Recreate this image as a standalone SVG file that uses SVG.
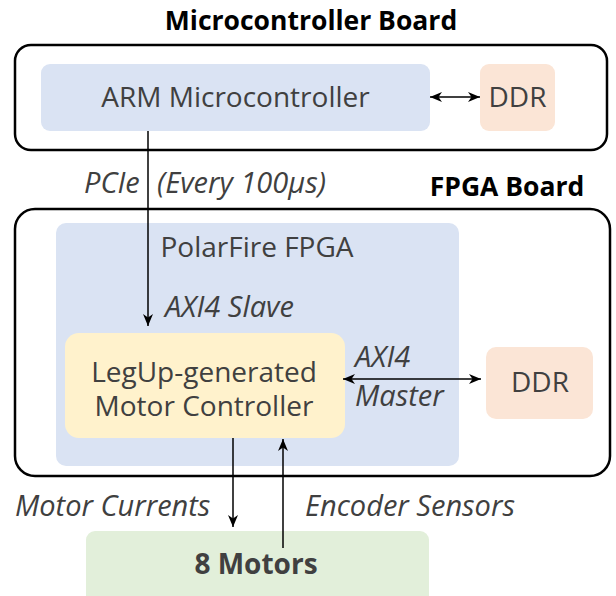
<svg xmlns="http://www.w3.org/2000/svg" width="616" height="596" viewBox="0 0 616 596">
<defs>
<marker id="ah" viewBox="0 0 12 10" refX="12" refY="5" markerWidth="12" markerHeight="10" markerUnits="userSpaceOnUse" orient="auto-start-reverse">
<path d="M0,0 L12,5 L0,10 L3.5,5 Z" fill="#000"/>
</marker>
<style>
.board{fill:#fff;stroke:#000;stroke-width:2.5}
.blue{fill:#dae3f3}
.ddr{fill:#fbe5d6}
.yel{fill:#fff2cc}
.grn{fill:#e2efda}
.t{font-family:"Open Sans","Noto Sans",sans-serif;font-size:28px;fill:#404040}
.i{font-family:"Open Sans","Noto Sans",sans-serif;font-size:29px;font-style:italic;fill:#404040}
.b{font-family:"Open Sans","Noto Sans",sans-serif;font-size:26.5px;font-weight:bold;fill:#000}
.c{stroke:#000;stroke-width:1.5;fill:none}
</style>
</defs>
<g id="microcontroller-board">
<rect class="board" x="15" y="45" width="592" height="105" rx="16"/>
<text class="b" x="311" y="30" text-anchor="middle">Microcontroller Board</text>
</g>
<g id="arm">
<rect class="blue" x="41" y="64" width="389" height="67" rx="9"/>
<text class="t" x="235.5" y="107" text-anchor="middle">ARM Microcontroller</text>
</g>
<g id="ddr1">
<rect class="ddr" x="480" y="64" width="75" height="67" rx="9"/>
<text class="t" x="517.5" y="107" text-anchor="middle">DDR</text>
</g>
<g id="fpga-board">
<rect class="board" x="15" y="209" width="595" height="267" rx="20"/>
<text class="b" x="507" y="196" text-anchor="middle">FPGA Board</text>
</g>
<g id="polarfire">
<rect class="blue" x="56" y="223" width="403" height="243" rx="10"/>
<text class="t" x="257" y="257" text-anchor="middle">PolarFire FPGA</text>
</g>
<g id="legup">
<rect class="yel" x="65" y="333" width="280" height="105" rx="14"/>
<text class="t" x="204" y="381.5" text-anchor="middle">LegUp-generated</text>
<text class="t" x="204" y="416" text-anchor="middle">Motor Controller</text>
</g>
<g id="ddr2">
<rect class="ddr" x="486" y="347" width="107" height="72" rx="10"/>
<text class="t" x="540" y="392" text-anchor="middle">DDR</text>
</g>
<g id="motors">
<rect class="grn" x="86" y="531" width="343" height="80" rx="9"/>
<text class="t" x="256" y="574" text-anchor="middle" style="font-weight:bold">8 Motors</text>
</g>
<g id="connectors">
<line class="c" x1="430" y1="97" x2="480" y2="97" marker-start="url(#ah)" marker-end="url(#ah)"/>
<line class="c" x1="148" y1="131" x2="148" y2="326" marker-end="url(#ah)"/>
<line class="c" x1="343" y1="379" x2="481" y2="379" marker-start="url(#ah)" marker-end="url(#ah)"/>
<line class="c" x1="233" y1="438" x2="233" y2="527" marker-end="url(#ah)"/>
<line class="c" x1="283" y1="548" x2="283" y2="439" marker-end="url(#ah)"/>
<text class="i" x="84" y="193">PCIe</text>
<text class="i" x="157" y="193">(Every 100µs)</text>
<text class="i" x="165" y="317">AXI4 Slave</text>
<text class="i" x="355" y="367">AXI4</text>
<text class="i" x="355" y="406">Master</text>
<text class="i" x="15" y="516">Motor Currents</text>
<text class="i" x="305" y="516">Encoder Sensors</text>
</g>
</svg>
